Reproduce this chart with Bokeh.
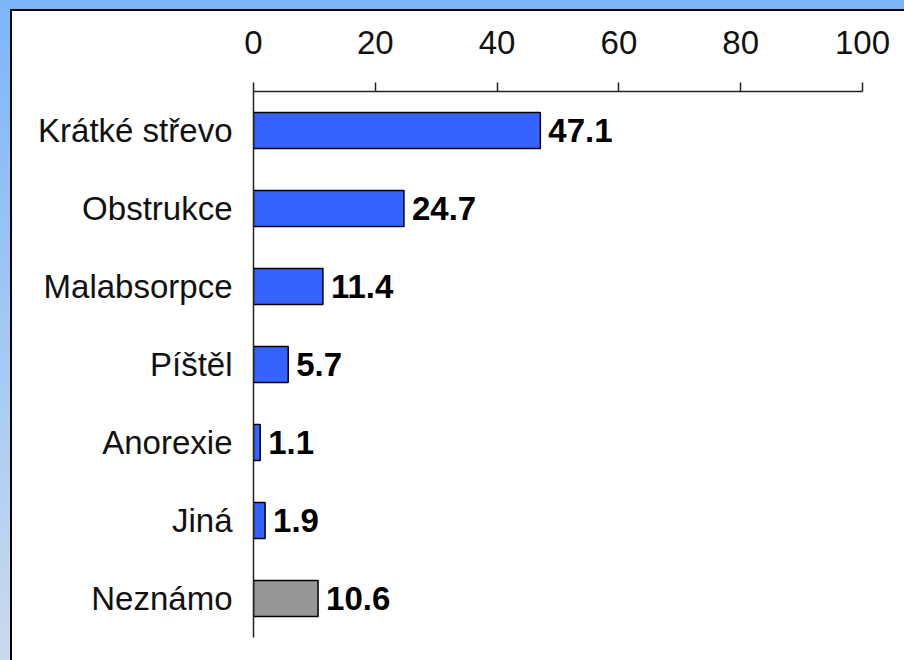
from bokeh.plotting import figure
from bokeh.models import FactorRange, FixedTicker, ColumnDataSource
from bokeh.core.properties import value
from bokeh.embed import file_html
from bokeh.resources import INLINE

categories = ["Krátké střevo", "Obstrukce", "Malabsorpce", "Píštěl", "Anorexie", "Jiná", "Neznámo"]
values = [47.1, 24.7, 11.4, 5.7, 1.1, 1.9, 10.6]
bar_colors = ["#3563FF", "#3563FF", "#3563FF", "#3563FF", "#3563FF", "#3563FF", "#969696"]
labels = ["47.1", "24.7", "11.4", "5.7", "1.1", "1.9", "10.6"]
x_ticks = [0, 20, 40, 60, 80, 100]

src = ColumnDataSource(dict(cat=categories, val=values, col=bar_colors, lab=labels))

p = figure(width=892, height=649, output_backend="svg", toolbar_location=None,
           y_range=FactorRange(factors=categories[::-1]), x_range=(0, 100),
           x_axis_location="above",
           min_border_left=241, min_border_right=42, min_border_top=80, min_border_bottom=23)
p.border_fill_color = "white"
p.background_fill_color = "white"
p.outline_line_color = None
p.xgrid.grid_line_color = None
p.ygrid.grid_line_color = None

p.hbar(y="cat", right="val", left=0, height=0.46, fill_color="col",
       line_color="black", line_width=1.5, source=src)
p.text(x="val", y="cat", text="lab", source=src, x_offset=8,
       text_baseline="middle", text_align="left",
       text_font=value("Liberation Sans"), text_font_style="bold",
       text_font_size="33px", text_color="black")

xa = p.xaxis[0]
xa.ticker = FixedTicker(ticks=x_ticks)
xa.major_tick_out = 9
xa.major_tick_in = 0
xa.minor_tick_line_color = None
xa.axis_line_width = 1.5
xa.axis_line_color = "#222222"
xa.major_tick_line_width = 1.5
xa.major_tick_line_color = "#222222"
xa.major_label_text_font = "Liberation Sans"
xa.major_label_text_font_size = "33px"
xa.major_label_text_color = "#111111"
xa.major_label_standoff = 29

ya = p.yaxis[0]
ya.major_tick_out = 0
ya.major_tick_in = 0
ya.major_tick_line_color = None
ya.minor_tick_line_color = None
ya.axis_line_width = 1.5
ya.axis_line_color = "#222222"
ya.major_label_text_font = "Liberation Sans"
ya.major_label_text_font_size = "33px"
ya.major_label_text_color = "#111111"
ya.major_label_standoff = 21

html = file_html(p, INLINE)
css = ("<style>html{height:100%;overflow:hidden;"
       "background:linear-gradient(to bottom,#7db6f9,#c9daee);}"
       "body{margin:9px 0 0 10px;border-top:2px solid #000;border-left:2px solid #000;"
       "background:#fff;overflow:hidden;}</style></head>")
html = html.replace("</head>", css, 1)
open("out.html", "w").write(html)
